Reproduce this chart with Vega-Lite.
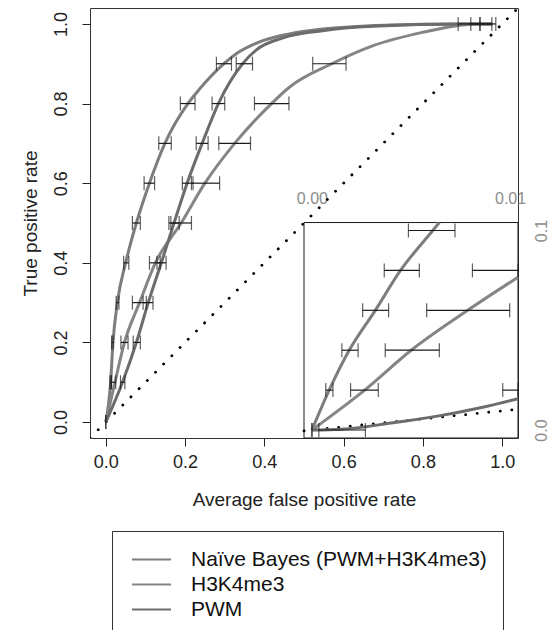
{
  "$schema": "https://vega.github.io/schema/vega-lite/v6.json",
  "width": 428,
  "height": 430,
  "autosize": {"type": "none"},
  "padding": {"left": 90, "top": 8, "right": 37, "bottom": 192},
  "background": "white",
  "config": {
    "font": "Liberation Sans",
    "view": {"stroke": "#333333", "strokeWidth": 1},
    "axis": {"grid": false}
  },
  "datasets": {
    "diag": [{"v": -0.04}, {"v": 1.04}],
    "curves": [
      {"series": "Naïve Bayes (PWM+H3K4me3)", "fpr": 0, "tpr": 0},
      {"series": "Naïve Bayes (PWM+H3K4me3)", "fpr": 0.012, "tpr": 0.1},
      {"series": "Naïve Bayes (PWM+H3K4me3)", "fpr": 0.018, "tpr": 0.2},
      {"series": "Naïve Bayes (PWM+H3K4me3)", "fpr": 0.029, "tpr": 0.3},
      {"series": "Naïve Bayes (PWM+H3K4me3)", "fpr": 0.05, "tpr": 0.4},
      {"series": "Naïve Bayes (PWM+H3K4me3)", "fpr": 0.077, "tpr": 0.5},
      {"series": "Naïve Bayes (PWM+H3K4me3)", "fpr": 0.11, "tpr": 0.6},
      {"series": "Naïve Bayes (PWM+H3K4me3)", "fpr": 0.149, "tpr": 0.7},
      {"series": "Naïve Bayes (PWM+H3K4me3)", "fpr": 0.207, "tpr": 0.8},
      {"series": "Naïve Bayes (PWM+H3K4me3)", "fpr": 0.237, "tpr": 0.837},
      {"series": "Naïve Bayes (PWM+H3K4me3)", "fpr": 0.298, "tpr": 0.9},
      {"series": "Naïve Bayes (PWM+H3K4me3)", "fpr": 0.329, "tpr": 0.925},
      {"series": "Naïve Bayes (PWM+H3K4me3)", "fpr": 0.396, "tpr": 0.958},
      {"series": "Naïve Bayes (PWM+H3K4me3)", "fpr": 0.463, "tpr": 0.975},
      {"series": "Naïve Bayes (PWM+H3K4me3)", "fpr": 0.547, "tpr": 0.987},
      {"series": "Naïve Bayes (PWM+H3K4me3)", "fpr": 0.715, "tpr": 0.997},
      {"series": "Naïve Bayes (PWM+H3K4me3)", "fpr": 0.89, "tpr": 1.0},
      {"series": "Naïve Bayes (PWM+H3K4me3)", "fpr": 0.975, "tpr": 1.0},
      {"series": "H3K4me3", "fpr": 0, "tpr": 0},
      {"series": "H3K4me3", "fpr": 0.023, "tpr": 0.1},
      {"series": "H3K4me3", "fpr": 0.047, "tpr": 0.2},
      {"series": "H3K4me3", "fpr": 0.085, "tpr": 0.3},
      {"series": "H3K4me3", "fpr": 0.125, "tpr": 0.4},
      {"series": "H3K4me3", "fpr": 0.19, "tpr": 0.5},
      {"series": "H3K4me3", "fpr": 0.25, "tpr": 0.6},
      {"series": "H3K4me3", "fpr": 0.325, "tpr": 0.7},
      {"series": "H3K4me3", "fpr": 0.418, "tpr": 0.8},
      {"series": "H3K4me3", "fpr": 0.463, "tpr": 0.841},
      {"series": "H3K4me3", "fpr": 0.57, "tpr": 0.9},
      {"series": "H3K4me3", "fpr": 0.673, "tpr": 0.945},
      {"series": "H3K4me3", "fpr": 0.8, "tpr": 0.979},
      {"series": "H3K4me3", "fpr": 0.89, "tpr": 0.996},
      {"series": "H3K4me3", "fpr": 0.93, "tpr": 1.0},
      {"series": "H3K4me3", "fpr": 0.975, "tpr": 1.0},
      {"series": "PWM", "fpr": 0, "tpr": 0},
      {"series": "PWM", "fpr": 0.042, "tpr": 0.1},
      {"series": "PWM", "fpr": 0.077, "tpr": 0.2},
      {"series": "PWM", "fpr": 0.107, "tpr": 0.3},
      {"series": "PWM", "fpr": 0.14, "tpr": 0.4},
      {"series": "PWM", "fpr": 0.172, "tpr": 0.5},
      {"series": "PWM", "fpr": 0.205, "tpr": 0.6},
      {"series": "PWM", "fpr": 0.243, "tpr": 0.7},
      {"series": "PWM", "fpr": 0.284, "tpr": 0.8},
      {"series": "PWM", "fpr": 0.345, "tpr": 0.9},
      {"series": "PWM", "fpr": 0.38, "tpr": 0.935},
      {"series": "PWM", "fpr": 0.447, "tpr": 0.965},
      {"series": "PWM", "fpr": 0.547, "tpr": 0.983},
      {"series": "PWM", "fpr": 0.673, "tpr": 0.994},
      {"series": "PWM", "fpr": 0.905, "tpr": 1.0},
      {"series": "PWM", "fpr": 0.975, "tpr": 1.0}
    ],
    "bars": [
      {"series": "Naïve Bayes (PWM+H3K4me3)", "tpr": 1.0, "lo": 0.889, "hi": 0.944},
      {"series": "PWM", "tpr": 1.0, "lo": 0.921, "hi": 0.974},
      {"series": "H3K4me3", "tpr": 1.0, "lo": 0.944, "hi": 0.984},
      {"series": "Naïve Bayes (PWM+H3K4me3)", "tpr": 0.9, "lo": 0.279, "hi": 0.317},
      {"series": "PWM", "tpr": 0.9, "lo": 0.329, "hi": 0.37},
      {"series": "H3K4me3", "tpr": 0.9, "lo": 0.522, "hi": 0.606},
      {"series": "Naïve Bayes (PWM+H3K4me3)", "tpr": 0.8, "lo": 0.188, "hi": 0.225},
      {"series": "PWM", "tpr": 0.8, "lo": 0.268, "hi": 0.3},
      {"series": "H3K4me3", "tpr": 0.8, "lo": 0.375, "hi": 0.462},
      {"series": "Naïve Bayes (PWM+H3K4me3)", "tpr": 0.7, "lo": 0.1335, "hi": 0.165},
      {"series": "PWM", "tpr": 0.7, "lo": 0.228, "hi": 0.258},
      {"series": "H3K4me3", "tpr": 0.7, "lo": 0.285, "hi": 0.365},
      {"series": "Naïve Bayes (PWM+H3K4me3)", "tpr": 0.6, "lo": 0.0965, "hi": 0.123},
      {"series": "PWM", "tpr": 0.6, "lo": 0.193, "hi": 0.22},
      {"series": "H3K4me3", "tpr": 0.6, "lo": 0.216, "hi": 0.287},
      {"series": "Naïve Bayes (PWM+H3K4me3)", "tpr": 0.5, "lo": 0.067, "hi": 0.087},
      {"series": "PWM", "tpr": 0.5, "lo": 0.159, "hi": 0.185},
      {"series": "H3K4me3", "tpr": 0.5, "lo": 0.164, "hi": 0.216},
      {"series": "Naïve Bayes (PWM+H3K4me3)", "tpr": 0.4, "lo": 0.045, "hi": 0.058},
      {"series": "H3K4me3", "tpr": 0.4, "lo": 0.11, "hi": 0.137},
      {"series": "PWM", "tpr": 0.4, "lo": 0.129, "hi": 0.152},
      {"series": "Naïve Bayes (PWM+H3K4me3)", "tpr": 0.3, "lo": 0.026, "hi": 0.033},
      {"series": "H3K4me3", "tpr": 0.3, "lo": 0.067, "hi": 0.102},
      {"series": "PWM", "tpr": 0.3, "lo": 0.094, "hi": 0.119},
      {"series": "Naïve Bayes (PWM+H3K4me3)", "tpr": 0.2, "lo": 0.0144, "hi": 0.0185},
      {"series": "H3K4me3", "tpr": 0.2, "lo": 0.038, "hi": 0.056},
      {"series": "PWM", "tpr": 0.2, "lo": 0.069, "hi": 0.087},
      {"series": "Naïve Bayes (PWM+H3K4me3)", "tpr": 0.1, "lo": 0.0105, "hi": 0.0135},
      {"series": "H3K4me3", "tpr": 0.1, "lo": 0.0144, "hi": 0.025},
      {"series": "PWM", "tpr": 0.1, "lo": 0.037, "hi": 0.048},
      {"series": "Naïve Bayes (PWM+H3K4me3)", "tpr": 0.0, "lo": 0.0, "hi": 0.0}
    ],
    "insetBox": [{"x0": -0.0004, "x1": 0.0104, "y0": -0.004, "y1": 0.104}],
    "insetDiag": [{"v": -0.0004}, {"v": 0.0104}],
    "insetCurves": [
      {"series": "Naïve Bayes (PWM+H3K4me3)", "fpr": 0, "tpr": 0},
      {"series": "Naïve Bayes (PWM+H3K4me3)", "fpr": 0.00087, "tpr": 0.02},
      {"series": "Naïve Bayes (PWM+H3K4me3)", "fpr": 0.00188, "tpr": 0.04},
      {"series": "Naïve Bayes (PWM+H3K4me3)", "fpr": 0.0032, "tpr": 0.06},
      {"series": "Naïve Bayes (PWM+H3K4me3)", "fpr": 0.00447, "tpr": 0.08},
      {"series": "Naïve Bayes (PWM+H3K4me3)", "fpr": 0.0061, "tpr": 0.1},
      {"series": "Naïve Bayes (PWM+H3K4me3)", "fpr": 0.00643, "tpr": 0.104},
      {"series": "H3K4me3", "fpr": 0, "tpr": 0},
      {"series": "H3K4me3", "fpr": 0.00266, "tpr": 0.02},
      {"series": "H3K4me3", "fpr": 0.00501, "tpr": 0.04},
      {"series": "H3K4me3", "fpr": 0.00786, "tpr": 0.06},
      {"series": "H3K4me3", "fpr": 0.0104, "tpr": 0.0766},
      {"series": "PWM", "fpr": 0, "tpr": 0},
      {"series": "PWM", "fpr": 0.0015, "tpr": 0.0004},
      {"series": "PWM", "fpr": 0.004, "tpr": 0.0035},
      {"series": "PWM", "fpr": 0.0064, "tpr": 0.0071},
      {"series": "PWM", "fpr": 0.0085, "tpr": 0.0112},
      {"series": "PWM", "fpr": 0.0104, "tpr": 0.0157}
    ],
    "insetBars": [
      {"series": "Naïve Bayes (PWM+H3K4me3)", "tpr": 0.1, "lo": 0.00487, "hi": 0.00722},
      {"series": "Naïve Bayes (PWM+H3K4me3)", "tpr": 0.08, "lo": 0.00365, "hi": 0.00542},
      {"series": "H3K4me3", "tpr": 0.08, "lo": 0.0081, "hi": 0.0104},
      {"series": "Naïve Bayes (PWM+H3K4me3)", "tpr": 0.06, "lo": 0.00256, "hi": 0.00387},
      {"series": "H3K4me3", "tpr": 0.06, "lo": 0.00579, "hi": 0.00998},
      {"series": "Naïve Bayes (PWM+H3K4me3)", "tpr": 0.04, "lo": 0.00151, "hi": 0.00233},
      {"series": "H3K4me3", "tpr": 0.04, "lo": 0.0037, "hi": 0.00643},
      {"series": "Naïve Bayes (PWM+H3K4me3)", "tpr": 0.02, "lo": 0.0007, "hi": 0.00106},
      {"series": "H3K4me3", "tpr": 0.02, "lo": 0.00195, "hi": 0.00335},
      {"series": "PWM", "tpr": 0.02, "lo": 0.00963, "hi": 0.0104},
      {"series": "PWM", "tpr": 0.0, "lo": 0.00035, "hi": 0.0027},
      {"series": "Naïve Bayes (PWM+H3K4me3)", "tpr": 0.0, "lo": 0.0, "hi": 0.0}
    ]
  },
  "layer": [
    {
      "data": {"name": "diag"},
      "mark": {"type": "line", "color": "black", "strokeWidth": 2.8, "strokeDash": [0.1, 11.5], "strokeCap": "round", "clip": true},
      "encoding": {
        "x": {"field": "v", "type": "quantitative", "scale": {"domain": [-0.04, 1.04], "nice": false, "zero": false}, "axis": null},
        "y": {"field": "v", "type": "quantitative", "scale": {"domain": [-0.04, 1.04], "nice": false, "zero": false}, "axis": null}
      }
    },
    {
      "data": {"name": "curves"},
      "mark": {"type": "line", "strokeWidth": 3, "interpolate": "monotone", "clip": true},
      "encoding": {
        "x": {"field": "fpr", "type": "quantitative", "scale": {"domain": [-0.04, 1.04], "nice": false, "zero": false},
          "axis": {"orient": "bottom", "title": "Average false positive rate", "values": [0, 0.2, 0.4, 0.6, 0.8, 1.0], "format": ".1f", "domain": false, "tickSize": 8, "tickColor": "#222222", "labelFontSize": 18, "labelColor": "#222222", "labelPadding": 7, "labelFlush": false, "labelOverlap": false, "titleFontSize": 19, "titleFontWeight": "normal", "titleColor": "#222222", "titlePadding": 19}},
        "y": {"field": "tpr", "type": "quantitative", "scale": {"domain": [-0.04, 1.04], "nice": false, "zero": false},
          "axis": {"orient": "left", "title": "True positive rate", "values": [0, 0.2, 0.4, 0.6, 0.8, 1.0], "format": ".1f", "domain": false, "tickSize": 8, "tickColor": "#222222", "labelFontSize": 18, "labelColor": "#222222", "labelAngle": -90, "labelAlign": "center", "labelBaseline": "bottom", "labelPadding": 12, "labelFlush": false, "labelOverlap": false, "titleFontSize": 19, "titleFontWeight": "normal", "titleColor": "#222222", "titlePadding": 12}},
        "color": {"field": "series", "type": "nominal",
          "scale": {"domain": ["Naïve Bayes (PWM+H3K4me3)", "H3K4me3", "PWM"], "range": ["#7d7d7d", "#858585", "#6c6c6c"]},
          "legend": {"title": null, "orient": "none", "legendX": 22, "legendY": 523, "symbolType": "stroke", "symbolSize": 1521, "symbolStrokeWidth": 2, "symbolOffset": 3, "labelFontSize": 21, "labelColor": "#111111", "labelOffset": 19, "labelLimit": 500, "padding": 16, "clipHeight": 25, "rowPadding": 0, "strokeColor": "#333333", "fillColor": "white"}}
      }
    },
    {
      "data": {"name": "bars"},
      "mark": {"type": "rule", "color": "#1a1a1a", "strokeWidth": 1.2, "clip": true},
      "encoding": {
        "x": {"field": "lo", "type": "quantitative", "scale": {"domain": [-0.04, 1.04], "nice": false, "zero": false}, "axis": null},
        "x2": {"field": "hi"},
        "y": {"field": "tpr", "type": "quantitative", "scale": {"domain": [-0.04, 1.04], "nice": false, "zero": false}, "axis": null}
      }
    },
    {
      "data": {"name": "bars"},
      "transform": [{"fold": ["lo", "hi"], "as": ["end", "val"]}],
      "mark": {"type": "tick", "orient": "vertical", "size": 14, "thickness": 1.2, "color": "#1a1a1a", "clip": true},
      "encoding": {
        "x": {"field": "val", "type": "quantitative", "scale": {"domain": [-0.04, 1.04], "nice": false, "zero": false}, "axis": null},
        "y": {"field": "tpr", "type": "quantitative", "scale": {"domain": [-0.04, 1.04], "nice": false, "zero": false}, "axis": null}
      }
    },
    {
      "data": {"name": "insetBox"},
      "mark": {"type": "rect", "fill": "white", "stroke": "#1a1a1a", "strokeWidth": 1},
      "encoding": {
        "x": {"field": "x0", "type": "quantitative", "scale": {"domain": [-0.0112, 0.0104], "nice": false, "zero": false},
          "axis": {"orient": "top", "title": null, "values": [0, 0.01], "format": ".2f", "domain": false, "ticks": false, "labelPadding": 0, "offset": -198, "labelFontSize": 16, "labelColor": "#8c8c8c", "labelFlush": false, "labelOverlap": false}},
        "x2": {"field": "x1"},
        "y": {"field": "y0", "type": "quantitative", "scale": {"domain": [-0.004, 0.21154], "nice": false, "zero": false},
          "axis": {"orient": "right", "title": null, "values": [0, 0.1], "format": ".1f", "domain": false, "ticks": false, "labelAngle": -90, "labelAlign": "center", "labelBaseline": "top", "labelPadding": 15, "labelFontSize": 16, "labelColor": "#8c8c8c", "labelFlush": false, "labelOverlap": false}},
        "y2": {"field": "y1"}
      }
    },
    {
      "data": {"name": "insetDiag"},
      "mark": {"type": "line", "color": "black", "strokeWidth": 2.8, "strokeDash": [0.1, 11.5], "strokeCap": "round"},
      "encoding": {
        "x": {"field": "v", "type": "quantitative", "scale": {"domain": [-0.0112, 0.0104], "nice": false, "zero": false}, "axis": null},
        "y": {"field": "v", "type": "quantitative", "scale": {"domain": [-0.004, 0.21154], "nice": false, "zero": false}, "axis": null}
      }
    },
    {
      "data": {"name": "insetCurves"},
      "mark": {"type": "line", "strokeWidth": 3, "interpolate": "monotone"},
      "encoding": {
        "x": {"field": "fpr", "type": "quantitative", "scale": {"domain": [-0.0112, 0.0104], "nice": false, "zero": false}, "axis": null},
        "y": {"field": "tpr", "type": "quantitative", "scale": {"domain": [-0.004, 0.21154], "nice": false, "zero": false}, "axis": null},
        "color": {"field": "series", "type": "nominal"}
      }
    },
    {
      "data": {"name": "insetBars"},
      "mark": {"type": "rule", "color": "#1a1a1a", "strokeWidth": 1.2},
      "encoding": {
        "x": {"field": "lo", "type": "quantitative", "scale": {"domain": [-0.0112, 0.0104], "nice": false, "zero": false}, "axis": null},
        "x2": {"field": "hi"},
        "y": {"field": "tpr", "type": "quantitative", "scale": {"domain": [-0.004, 0.21154], "nice": false, "zero": false}, "axis": null}
      }
    },
    {
      "data": {"name": "insetBars"},
      "transform": [{"fold": ["lo", "hi"], "as": ["end", "val"]}],
      "mark": {"type": "tick", "orient": "vertical", "size": 14, "thickness": 1.2, "color": "#1a1a1a"},
      "encoding": {
        "x": {"field": "val", "type": "quantitative", "scale": {"domain": [-0.0112, 0.0104], "nice": false, "zero": false}, "axis": null},
        "y": {"field": "tpr", "type": "quantitative", "scale": {"domain": [-0.004, 0.21154], "nice": false, "zero": false}, "axis": null}
      }
    }
  ],
  "resolve": {"scale": {"x": "independent", "y": "independent"}}
}
